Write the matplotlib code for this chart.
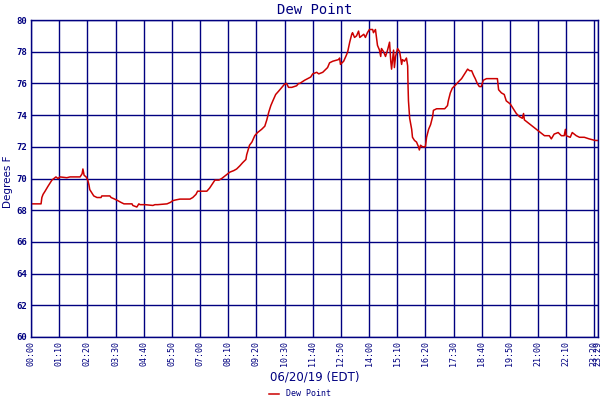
import matplotlib
matplotlib.use('Agg')
import matplotlib.pyplot as plt

# dew point readings, minutes after midnight / degrees F
minutes = [0, 25, 27, 30, 35, 42, 47, 52, 57, 62, 67, 72, 89, 97, 109, 122, 127, 129, 132, 137,
           141, 144, 146, 151, 156, 164, 174, 176, 196, 199, 208, 216, 223, 231, 251, 253, 263, 268,
           271, 283, 303, 308, 315, 338, 347, 352, 360, 370, 395, 402, 410, 414, 437, 444, 452, 457,
           467, 474, 484, 494, 504, 511, 519, 526, 534, 536, 543, 549, 556, 563, 573, 581, 586, 591,
           596, 601, 608, 615, 625, 630, 635, 640, 648, 660, 665, 668, 680, 695, 700, 710, 715, 725,
           737, 742, 750, 764, 767, 769, 777, 784, 787, 792, 797, 799, 804, 809, 814, 817, 827, 831,
           836, 841, 849, 851, 856, 861, 866, 869, 871, 876, 881, 886, 891, 894, 896, 901, 903, 906,
           911, 916, 918, 921, 923, 928, 933, 936, 937, 938, 941, 946, 948, 953, 958, 963, 965, 968,
           973, 980, 983, 988, 993, 998, 1000, 1008, 1028, 1035, 1037, 1042, 1047, 1055, 1062, 1070,
           1075, 1080, 1085, 1090, 1095, 1100, 1104, 1109, 1114, 1119, 1124, 1132, 1159, 1162, 1169,
           1176, 1181, 1186, 1191, 1196, 1201, 1206, 1214, 1221, 1224, 1226, 1231, 1241, 1251, 1261,
           1276, 1288, 1293, 1300, 1310, 1318, 1325, 1328, 1330, 1340, 1345, 1355, 1363, 1375, 1387,
           1402, 1407]
dewpt = [68.4, 68.4, 68.8, 69.0, 69.2, 69.5, 69.7, 69.9, 70.0, 70.1, 70.0, 70.1, 70.05, 70.1, 70.1,
         70.1, 70.3, 70.6, 70.2, 70.1, 69.9, 69.6, 69.3, 69.1, 68.9, 68.8, 68.8, 68.9, 68.9, 68.8,
         68.7, 68.6, 68.5, 68.4, 68.4, 68.3, 68.2, 68.4, 68.35, 68.35, 68.3, 68.35, 68.35, 68.4, 68.5,
         68.6, 68.65, 68.7, 68.7, 68.8, 69.0, 69.2, 69.2, 69.4, 69.7, 69.9, 69.9, 70.0, 70.2, 70.4,
         70.5, 70.6, 70.8, 71.0, 71.2, 71.5, 72.1, 72.3, 72.7, 72.9, 73.1, 73.3, 73.7, 74.2, 74.6,
         74.9, 75.3, 75.5, 75.8, 75.95, 76.0, 75.75, 75.75, 75.85, 76.0, 76.0, 76.2, 76.4, 76.6, 76.7,
         76.6, 76.7, 77.0, 77.3, 77.4, 77.5, 77.6, 77.2, 77.4, 77.8, 78.0, 78.6, 79.1, 79.2, 78.9,
         79.0, 79.3, 78.9, 79.1, 78.9, 79.2, 79.4, 79.4, 79.2, 79.4, 78.4, 78.1, 77.7, 78.2, 78.0,
         77.7, 78.1, 78.6, 77.4, 76.9, 78.1, 77.0, 77.7, 78.2, 78.0, 77.7, 77.2, 77.5, 77.4, 77.6,
         77.1, 75.8, 74.9, 73.8, 73.1, 72.6, 72.4, 72.3, 72.0, 71.8, 72.1, 72.0, 72.0, 72.6, 73.1,
         73.4, 73.9, 74.3, 74.4, 74.4, 74.6, 74.9, 75.4, 75.7, 75.9, 76.1, 76.3, 76.5, 76.7, 76.9,
         76.8, 76.8, 76.5, 76.3, 76.0, 75.8, 75.8, 76.2, 76.3, 76.3, 75.6, 75.4, 75.3, 74.9, 74.8,
         74.7, 74.5, 74.3, 74.1, 73.9, 73.8, 74.1, 73.7, 73.6, 73.4, 73.2, 73.0, 72.7, 72.7, 72.5,
         72.8, 72.9, 72.7, 72.7, 73.1, 72.7, 72.6, 72.9, 72.7, 72.6, 72.6, 72.5, 72.4, 72.4]

tick_pos = [0, 70, 140, 210, 280, 350, 420, 490, 560, 630, 700, 770, 840, 910, 980, 1050,
            1120, 1190, 1260, 1330, 1400, 1409]
tick_lab = ['00:00', '01:10', '02:20', '03:30', '04:40', '05:50', '07:00', '08:10', '09:20',
            '10:30', '11:40', '12:50', '14:00', '15:10', '16:20', '17:30', '18:40', '19:50',
            '21:00', '22:10', '23:20', '23:29']

navy = '#000080'
mono = 'DejaVu Sans Mono'

fig = plt.figure(figsize=(6, 4), dpi=100)
ax = fig.add_axes([31/600, 1-337/400, 567/600, 317/400])

line, = ax.plot(minutes, dewpt, color='#cc0000', lw=1.1, label='Dew Point')

ax.set_xlim(0, 1409)
ax.set_ylim(60, 80)
ax.set_yticks(range(60, 81, 2))
ax.set_xticks(tick_pos)
ax.set_xticklabels(tick_lab, rotation=90, fontsize=6, family=mono, color=navy)
for t in ax.get_yticklabels():
    t.set_fontsize(6.5)
    t.set_family(mono)
    t.set_color(navy)
    t.set_fontweight('bold')
ax.tick_params(length=0, pad=3)
ax.grid(True, color=navy, lw=1)
for s in ax.spines.values():
    s.set_color(navy)
    s.set_linewidth(1)

ax.set_title('Dew Point', fontsize=10, family=mono, color=navy, pad=4)
ax.set_ylabel('Degrees F', fontsize=7.5, family='DejaVu Sans', color=navy)
ax.yaxis.set_label_coords(-0.031, 0.49)
fig.text(0.525, 0.05, '06/20/19 (EDT)', ha='center', fontsize=8.5, family='DejaVu Sans', color=navy)

fig.legend(handles=[line], loc='center', bbox_to_anchor=(0.5, 0.015), frameon=False,
           prop={'family': mono, 'size': 6}, handlelength=1.2, labelcolor=navy)

fig.savefig('out.png', dpi=100)
